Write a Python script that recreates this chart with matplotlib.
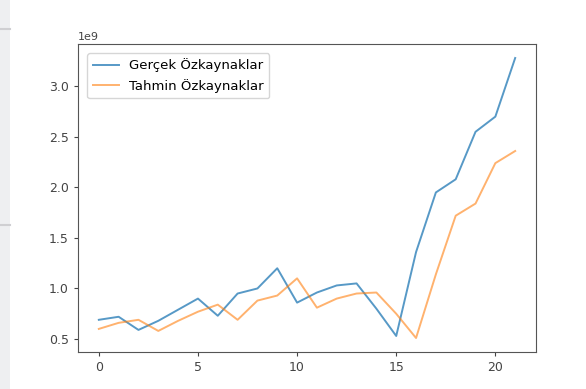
import matplotlib.pyplot as plt
from matplotlib.patches import Rectangle
from matplotlib.lines import Line2D

# equity per period, actual vs. predicted (units of 1e9)
periods = list(range(22))
gercek = [0.69, 0.72, 0.59, 0.68, 0.79, 0.90, 0.73, 0.95, 1.00, 1.20,
          0.86, 0.96, 1.03, 1.05, 0.80, 0.53, 1.36, 1.95, 2.08, 2.55,
          2.70, 3.28]
tahmin = [0.60, 0.66, 0.69, 0.58, 0.68, 0.77, 0.84, 0.69, 0.88, 0.93,
          1.10, 0.81, 0.90, 0.95, 0.96, 0.75, 0.51, 1.14, 1.72, 1.84,
          2.24, 2.36]
labels = ["Gerçek Özkaynaklar", "Tahmin Özkaynaklar"]

fontsize = 9

fig = plt.figure(figsize=(5.86, 3.89), dpi=100)

# side panel strip on the left edge
fig.patches.append(Rectangle((0, 0), 10 / 586, 1, transform=fig.transFigure,
                             facecolor="#eeeff1", edgecolor="none", zorder=0))
for yy in (1 - 29 / 389, 1 - 225 / 389):
    fig.lines.append(Line2D([0, 10 / 586], [yy, yy], transform=fig.transFigure,
                            color="#cfcfd2", linewidth=1.5))

ax = fig.add_axes([78 / 586, 37 / 389, 458 / 586, 308 / 389])
ax.plot(periods, [v * 1e9 for v in gercek], label=labels[0], color="#1f77b4",
        linewidth=1.4, alpha=0.75)
ax.plot(periods, [v * 1e9 for v in tahmin], label=labels[1], color="#ff7f0e",
        linewidth=1.4, alpha=0.6)

ax.set_xticks([0, 5, 10, 15, 20])
ax.set_yticks([0.5e9, 1.0e9, 1.5e9, 2.0e9, 2.5e9, 3.0e9])
ax.tick_params(labelsize=fontsize, colors="#444444", length=3.2)
ax.yaxis.get_offset_text().set_fontsize(fontsize - 1)
for s in ax.spines.values():
    s.set_color("#555555")

ax.legend(loc="upper left", fontsize=fontsize + 0.5, borderaxespad=0.7)

fig.savefig("out.png", dpi=100)
